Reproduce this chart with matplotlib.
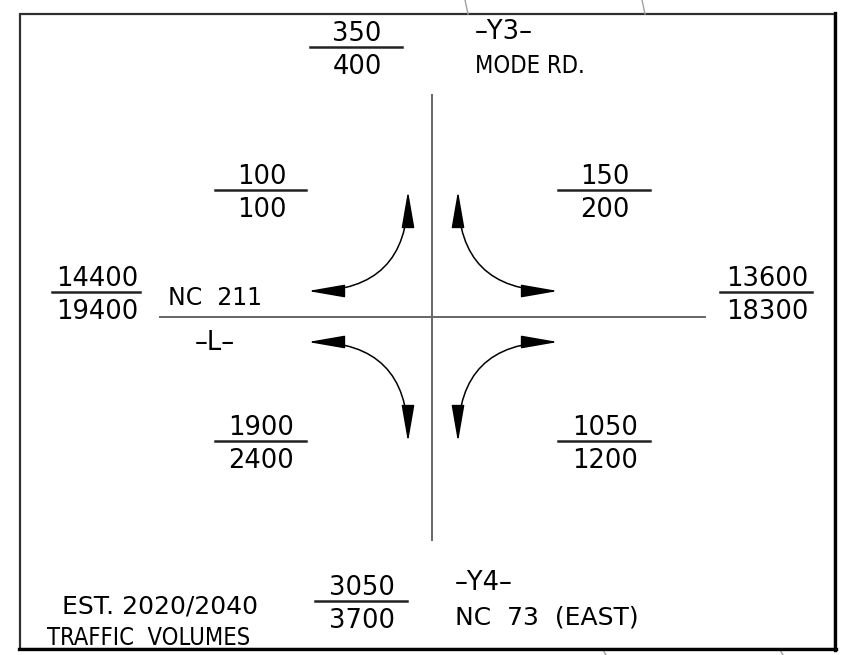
"""Estimated 2020/2040 traffic volumes at NC 211 / Mode Rd. / NC 73."""

import os

import matplotlib

matplotlib.use("Agg")
import matplotlib.pyplot as plt
from matplotlib import font_manager
from matplotlib.patches import FancyArrowPatch, Rectangle

# volume pairs: 2020 over 2040
approaches = ["Y3 north", "NW turn", "NE turn", "L west", "L east",
              "SW turn", "SE turn", "Y4 south"]
volumes_2020 = [350, 100, 150, 14400, 13600, 1900, 1050, 3050]
volumes_2040 = [400, 100, 200, 19400, 18300, 2400, 1200, 3700]

# fraction bar for each pair: (left x, right x, y) in pixels
bar_left = [310, 215, 558, 52, 720, 215, 558, 315]
bar_right = [402, 306, 650, 140, 812, 306, 650, 407]
bar_y = [47, 190, 190, 292, 292, 441, 441, 601]

# turning movement arcs: start, end, angle at start, angle at end
arc_start = [(308, 291), (458, 191), (308, 342), (458, 442)]
arc_end = [(408, 191), (558, 291), (408, 442), (558, 342)]
arc_angles = [(0, 90), (90, 0), (0, 90), (90, 0)]

NUM_FONT = "DejaVu Sans"
FS = 18.5


def narrow_font():
    """Look for a condensed sans on this machine, else None."""
    wanted = ["LiberationSansNarrow-Regular.ttf", "DejaVuSansCondensed.ttf",
              "NotoSans-Condensed.ttf", "NotoSans-CondensedMedium.ttf",
              "Roboto-Condensed.ttf", "RobotoCondensed-Regular.ttf"]
    found = {os.path.basename(f.fname): f.fname
             for f in font_manager.fontManager.ttflist}
    for name in wanted:
        if name in found:
            return name, found[name]
    return None, None


narrow_name, narrow_path = narrow_font()
if narrow_path:
    word_props = font_manager.FontProperties(fname=narrow_path)
    word_size = 18.5 if "Narrow" in narrow_name else 17
else:
    word_props = font_manager.FontProperties(family="DejaVu Sans")
    word_size = 15

fig = plt.figure(figsize=(8.5, 6.55), dpi=100)
ax = fig.add_axes([0, 0, 1, 1])
ax.set_xlim(0, 850)
ax.set_ylim(655, 0)
ax.axis("off")

# faint map lines behind the box
for x0, y0, x1, y1 in [(465, 0, 468, 14), (642, 0, 645, 14),
                       (603, 650, 606, 655), (780, 650, 783, 655)]:
    ax.plot([x0, x1], [y0, y1], color="#a0a0a0", lw=1)

# frame, heavier on right and bottom
ax.add_patch(Rectangle((20, 14), 815, 635, fill=False, ec="#303030", lw=1.6))
ax.plot([835, 835], [13, 650], color="black", lw=2.4)
ax.plot([19, 836], [649, 649], color="black", lw=2.4)

# road centre lines
ax.plot([432, 432], [95, 540], color="#666666", lw=1.4)
ax.plot([160, 705], [317, 317], color="#666666", lw=1.4)

# volumes
for v1, v2, xl, xr, y in zip(volumes_2020, volumes_2040, bar_left, bar_right, bar_y):
    ax.plot([xl, xr], [y, y], color="#222222", lw=1.8)
    cx = (xl + xr) / 2 + 1
    ax.text(cx, y - 6, str(v1), ha="center", va="baseline",
            family=NUM_FONT, fontsize=FS)
    ax.text(cx, y + 27, str(v2), ha="center", va="baseline",
            family=NUM_FONT, fontsize=FS)

# turning arrows
for p0, p1, (a0, a1) in zip(arc_start, arc_end, arc_angles):
    ax.add_patch(FancyArrowPatch(
        p0, p1, arrowstyle="<|-|>,head_length=23,head_width=4",
        connectionstyle=f"angle3,angleA={a0},angleB={a1}",
        mutation_scale=1, shrinkA=0, shrinkB=0, color="black", lw=1.1))

# road names
ax.text(475, 39, "–Y3–", family=NUM_FONT, fontsize=FS, va="baseline")
ax.text(475, 73, "MODE RD.", fontproperties=word_props, fontsize=word_size,
        va="baseline")
ax.text(168, 305, "NC  211", family=NUM_FONT, fontsize=17, va="baseline")
ax.text(195, 350, "–L–", family=NUM_FONT, fontsize=FS, va="baseline")
ax.text(455, 590, "–Y4–", family=NUM_FONT, fontsize=FS, va="baseline")
ax.text(455, 624, "NC  73  (EAST)", family=NUM_FONT, fontsize=18,
        va="baseline")

ax.text(62, 614, "EST. 2020/2040", family=NUM_FONT, fontsize=18,
        va="baseline")
ax.text(149, 645, "TRAFFIC  VOLUMES", fontproperties=word_props,
        fontsize=word_size, ha="center", va="baseline")

fig.savefig("out.png", dpi=100, facecolor="white")
